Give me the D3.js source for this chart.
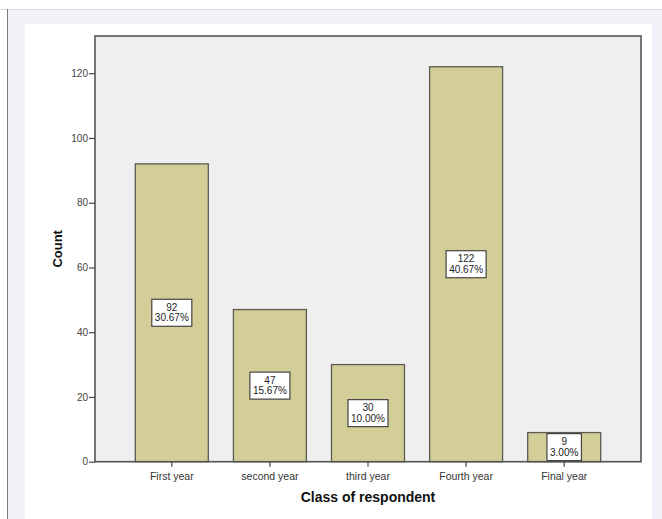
<!DOCTYPE html>
<html>
<head>
<meta charset="utf-8">
<script src="https://cdn.jsdelivr.net/npm/d3@7"></script>
<style>
  html, body { margin: 0; padding: 0; background: #ffffff; }
  svg { display: block; font-family: Arial, "Liberation Sans", sans-serif; }
</style>
</head>
<body>
<svg id="chart" width="662" height="519"></svg>
<script>
// Class of respondent frequencies
const categories = ["First year", "second year", "third year", "Fourth year", "Final year"];
const counts = [92, 47, 30, 122, 9];
const percents = ["30.67%", "15.67%", "10.00%", "40.67%", "3.00%"];
const yTicks = [0, 20, 40, 60, 80, 100, 120];

const W = 662, H = 519;
const plot = { left: 95, right: 641, top: 36, bottom: 461.7 };

const svg = d3.select("#chart");

// Viewer backdrop and white page panel
svg.append("rect").attr("x", 0).attr("y", 0).attr("width", W).attr("height", H).attr("fill", "#ffffff");
svg.append("rect").attr("x", 7).attr("y", 9).attr("width", W - 7).attr("height", H - 9).attr("fill", "#f1f2f7");
svg.append("line").attr("x1", 0).attr("x2", W).attr("y1", 9.5).attr("y2", 9.5).attr("stroke", "#dcdce0");
svg.append("line").attr("x1", 7.5).attr("x2", 7.5).attr("y1", 9).attr("y2", H).attr("stroke", "#7a7a7a");
svg.append("rect").attr("x", 25).attr("y", 24).attr("width", 627).attr("height", H - 24).attr("fill", "#ffffff");

const x = d3.scaleBand()
  .domain(categories)
  .range([plot.left, plot.right])
  .paddingInner(0.256)
  .paddingOuter(0.411);

const y = d3.scaleLinear()
  .domain([0, 131.5])
  .range([plot.bottom, plot.top]);

// Plot background
svg.append("rect")
  .attr("x", plot.left).attr("y", plot.top)
  .attr("width", plot.right - plot.left).attr("height", plot.bottom - plot.top)
  .attr("fill", "#efefef");

// Bars
svg.append("g").selectAll("rect")
  .data(counts)
  .join("rect")
  .attr("x", (d, i) => x(categories[i]))
  .attr("y", d => y(d))
  .attr("width", x.bandwidth())
  .attr("height", d => y(0) - y(d))
  .attr("fill", "#d3ce98")
  .attr("stroke", "#5a5a50")
  .attr("stroke-width", 1.3);

// Frame
svg.append("rect")
  .attr("x", plot.left).attr("y", plot.top)
  .attr("width", plot.right - plot.left).attr("height", plot.bottom - plot.top)
  .attr("fill", "none")
  .attr("stroke", "#555555")
  .attr("stroke-width", 1.6);

// Y axis
const yAxis = svg.append("g")
  .attr("transform", `translate(${plot.left},0)`)
  .call(d3.axisLeft(y).tickValues(yTicks).tickSize(6).tickPadding(1).tickFormat(d3.format("d")));
yAxis.select(".domain").remove();
yAxis.selectAll(".tick line").attr("stroke", "#444").attr("stroke-width", 1.2);
yAxis.selectAll(".tick text")
  .attr("fill", "#444")
  .style("font-size", "10px")
  .style("font-family", "Arial, 'Liberation Sans', sans-serif");

// X axis
const xAxis = svg.append("g")
  .attr("transform", `translate(0,${plot.bottom})`)
  .call(d3.axisBottom(x).tickSize(5).tickPadding(6));
xAxis.select(".domain").remove();
xAxis.selectAll(".tick line").attr("stroke", "#444").attr("stroke-width", 1.2);
xAxis.selectAll(".tick text")
  .attr("fill", "#333")
  .style("font-size", "10.5px")
  .style("font-family", "Arial, 'Liberation Sans', sans-serif");

// Value labels in the middle of each bar
const labels = svg.append("g").selectAll("g")
  .data(counts)
  .join("g")
  .attr("transform", (d, i) => `translate(${x(categories[i]) + x.bandwidth() / 2},${y(d / 2)})`);

labels.each(function(d, i) {
  const g = d3.select(this);
  const box = g.append("rect").attr("fill", "#ffffff").attr("stroke", "#444").attr("stroke-width", 1.2);
  const t = g.append("text")
    .attr("text-anchor", "middle")
    .attr("fill", "#222")
    .style("font-size", "10px");
  t.append("tspan").attr("x", 0).attr("y", -2).text(d);
  t.append("tspan").attr("x", 0).attr("y", 8.5).text(percents[i]);
  const bb = t.node().getBBox();
  const wBox = bb.width + 6;
  box.attr("x", -wBox / 2).attr("y", -13.5).attr("width", wBox).attr("height", 27);
});

// Axis titles
svg.append("text")
  .attr("transform", `translate(62,${(plot.top + plot.bottom) / 2}) rotate(-90)`)
  .attr("text-anchor", "middle")
  .attr("fill", "#111")
  .style("font-size", "13px")
  .style("font-weight", "bold")
  .text("Count");

svg.append("text")
  .attr("x", (plot.left + plot.right) / 2)
  .attr("y", 502)
  .attr("text-anchor", "middle")
  .attr("fill", "#111")
  .style("font-size", "14px")
  .style("font-weight", "bold")
  .text("Class of respondent");
</script>
</body>
</html>
